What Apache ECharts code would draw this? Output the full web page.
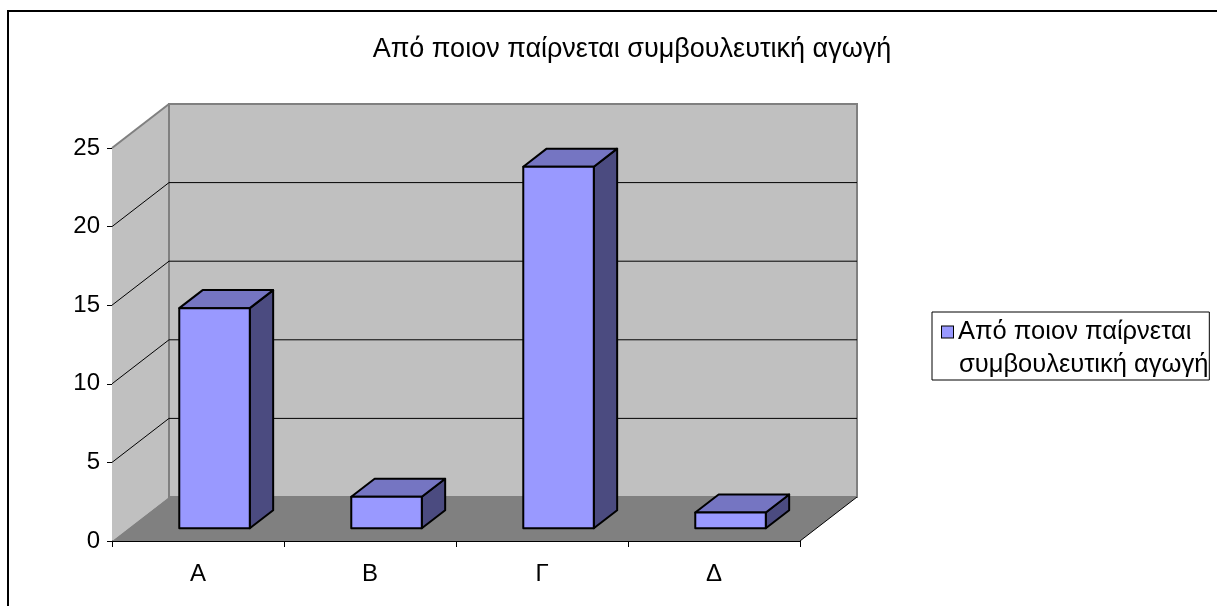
<!DOCTYPE html>
<html>
<head>
<meta charset="utf-8">
<script src="https://cdn.jsdelivr.net/npm/echarts@6/dist/echarts.min.js"></script>
<style>
html,body{margin:0;padding:0;background:#fff;}
#chart{width:1217px;height:606px;}
</style>
</head>
<body>
<div id="chart"></div>
<script>
// ---- data ----
var titleText = 'Από ποιον παίρνεται συμβουλευτική αγωγή';
var seriesName = 'Από ποιον παίρνεται συμβουλευτική αγωγή';
var legendLines = ['Από ποιον παίρνεται', 'συμβουλευτική αγωγή'];
var categories = ['Α', 'Β', 'Γ', 'Δ'];
var values = [14, 2, 23, 1];
var yTicks = [0, 5, 10, 15, 20, 25];

// ---- 3D look (pixel styling) ----
var DX = 57, DY = -44;          // depth offset of back wall
var F0 = 0.29, F1 = 0.70;       // bar depth fraction (front, back)
var BARW = 0.41;                // bar width as fraction of category band
var FONT = 'Liberation Sans, Arial, sans-serif';

var chart = echarts.init(document.getElementById('chart'), null, {renderer: 'canvas'});

function bgRender(params, api) {
  var cs = params.coordSys;
  var x0 = cs.x, x1 = cs.x + cs.width;
  var yb = api.coord([0, yTicks[0]])[1];
  var yt = api.coord([0, yTicks[yTicks.length - 1]])[1];
  var children = [];
  children.push({type: 'polygon', shape: {points: [[x0, yb], [x0 + DX, yb + DY], [x0 + DX, yt + DY], [x0, yt]]},
    style: {fill: '#C0C0C0', stroke: null}});
  children.push({type: 'rect', shape: {x: x0 + DX, y: yt + DY, width: x1 - x0, height: yb - yt},
    style: {fill: '#C0C0C0', stroke: '#808080', lineWidth: 2}});
  children.push({type: 'line', shape: {x1: x0, y1: yt, x2: x0 + DX, y2: yt + DY},
    style: {stroke: '#808080', lineWidth: 2}});
  children.push({type: 'polygon', shape: {points: [[x0, yb], [x1, yb], [x1 + DX, yb + DY], [x0 + DX, yb + DY]]},
    style: {fill: '#808080', stroke: null}});
  children.push({type: 'line', shape: {x1: x1, y1: yb, x2: x1 + DX, y2: yb + DY},
    style: {stroke: '#000', lineWidth: 1}});
  for (var k = 1; k < yTicks.length - 1; k++) {
    var y = api.coord([0, yTicks[k]])[1];
    children.push({type: 'line', shape: {x1: x0, y1: y, x2: x0 + DX, y2: y + DY}, style: {stroke: '#000', lineWidth: 1}});
    children.push({type: 'line', shape: {x1: x0 + DX, y1: y + DY, x2: x1 + DX, y2: y + DY}, style: {stroke: '#000', lineWidth: 1}});
  }
  return {type: 'group', children: children};
}

function barRender(params, api) {
  var i = api.value(0), v = api.value(1);
  var base = api.coord([i, 0]);
  var top = api.coord([i, v]);
  var bw = api.size([1, 0])[0] * BARW;
  var fx = DX * F0, fy = DY * F0;
  var bx = DX * (F1 - F0), by = DY * (F1 - F0);
  var L = base[0] - bw / 2 + fx, R = base[0] + bw / 2 + fx;
  var B = base[1] + fy, T = top[1] + fy;
  var edge = {stroke: '#000', lineWidth: 2, lineJoin: 'round'};
  return {type: 'group', children: [
    {type: 'polygon', shape: {points: [[R, T], [R, B], [R + bx, B + by], [R + bx, T + by]]},
      style: Object.assign({fill: '#4B4B80'}, edge)},
    {type: 'polygon', shape: {points: [[L, T], [R, T], [R + bx, T + by], [L + bx, T + by]]},
      style: Object.assign({fill: '#7575C2'}, edge)},
    {type: 'rect', shape: {x: L, y: T, width: R - L, height: B - T},
      style: Object.assign({fill: '#9999FF'}, edge)}
  ]};
}

var option = {
  backgroundColor: '#fff',
  animation: false,
  title: {
    text: titleText, left: 627, top: 31, textAlign: 'center',
    textStyle: {fontFamily: FONT, fontSize: 27, fontWeight: 'normal', color: '#000'}
  },
  legend: {
    data: [seriesName],
    left: 932, top: 312, orient: 'vertical',
    padding: [7, 1, 2, 5],
    borderColor: '#000', borderWidth: 1,
    itemWidth: 0, itemHeight: 0, itemGap: 0,
    icon: 'rect',
    formatter: function () {
      return '{sq|}{g|}{t|' + legendLines[0] + '}\n{ind|}{t|' + legendLines[1] + '}';
    },
    textStyle: {
      fontFamily: FONT, fontSize: 26, color: '#000',
      rich: {
        sq: {width: 11, height: 11, backgroundColor: '#9999FF', borderColor: '#000', borderWidth: 1},
        g: {width: 5},
        ind: {width: 17},
        t: {fontFamily: FONT, fontSize: 25.5, color: '#000', lineHeight: 33}
      }
    }
  },
  grid: {left: 112, right: 417, top: 148, bottom: 65},
  xAxis: {
    type: 'category', data: categories,
    axisLine: {lineStyle: {color: '#000', width: 1}},
    axisTick: {show: true, length: 6, lineStyle: {color: '#000'}},
    axisLabel: {fontFamily: FONT, fontSize: 24, color: '#000', margin: 21},
    splitLine: {show: false}
  },
  yAxis: {
    type: 'value', min: 0, max: 25, interval: 5,
    axisLine: {show: true, lineStyle: {color: '#000', width: 1}},
    axisTick: {show: true, length: 5, lineStyle: {color: '#000'}},
    axisLabel: {fontFamily: FONT, fontSize: 24, color: '#000', margin: 12},
    splitLine: {show: false}
  },
  graphic: [{
    type: 'rect', shape: {x: 8, y: 11, width: 1400, height: 800},
    style: {fill: null, stroke: '#000', lineWidth: 2}, silent: true, z: 100
  }],
  series: [
    {type: 'custom', name: '_bg', renderItem: bgRender, data: [[0, 0]], silent: true, z: 1, clip: false},
    {type: 'custom', name: seriesName, renderItem: barRender, z: 3, clip: false,
      itemStyle: {color: '#9999FF'},
      data: values.map(function (v, i) { return [i, v]; })}
  ]
};
chart.setOption(option);
</script>
</body>
</html>
